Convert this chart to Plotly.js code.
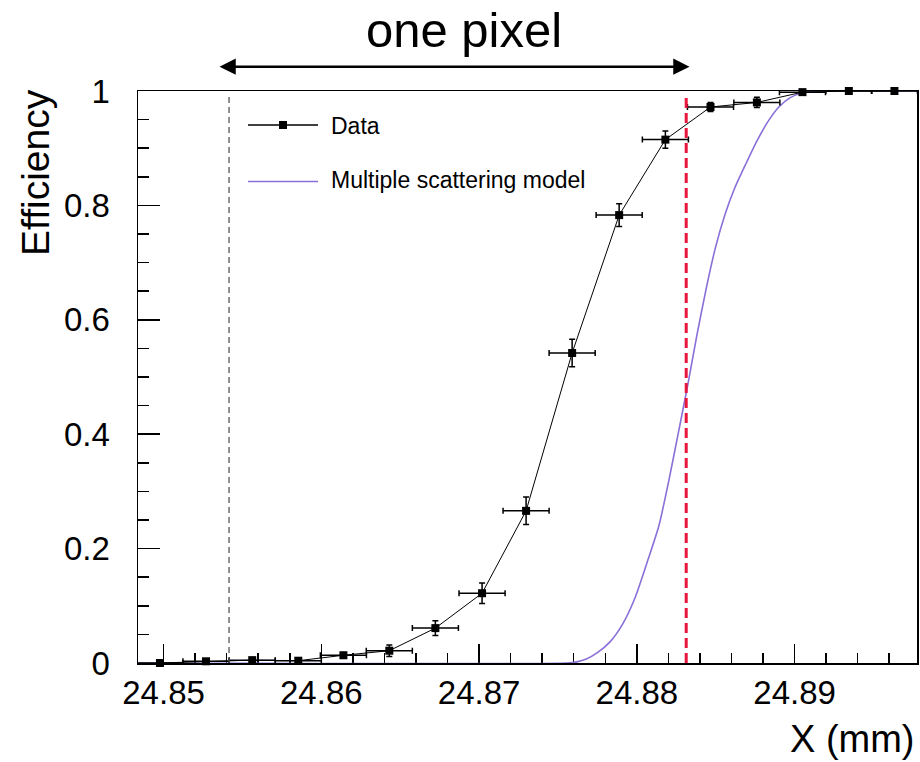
<!DOCTYPE html>
<html>
<head>
<meta charset="utf-8">
<script src="https://cdn.plot.ly/plotly-3.0.1.min.js"></script>
<style>html,body{margin:0;padding:0;background:#fff;}#chart{width:920px;height:762px;}</style>
</head>
<body>
<div id="chart"></div>
<script>
// Measured data points (efficiency vs X position)
const dataX = [24.84977, 24.85269, 24.85562, 24.85854, 24.86140, 24.86431, 24.86723, 24.87019, 24.87298,
               24.87590, 24.87888, 24.88181, 24.88467, 24.88761, 24.89050, 24.89344, 24.89633];
const dataY = [0.000, 0.003, 0.005, 0.004, 0.0135, 0.0215, 0.061, 0.122, 0.266,
               0.542, 0.783, 0.915, 0.972, 0.980, 0.998, 1.000, 1.000];
const dataXErr = [0.00146, 0.00146, 0.00146, 0.00146, 0.00146, 0.00146, 0.00146, 0.00146, 0.00146,
                  0.00146, 0.00146, 0.00146, 0.00146, 0.00146, 0.00146, 0.00146, 0.00146];
const dataYErr = [0.002, 0.003, 0.004, 0.003, 0.005, 0.010, 0.013, 0.018, 0.024,
                  0.024, 0.020, 0.015, 0.008, 0.009, 0.003, 0.002, 0.002];

// Multiple scattering model curve
const modelX = [24.84838, 24.87560, 24.87620, 24.87680, 24.87750, 24.87830, 24.87910, 24.87990, 24.88070,
                24.88140, 24.88200, 24.88260, 24.88320, 24.88380, 24.88440, 24.88500, 24.88560,
                24.88620, 24.88690, 24.88760, 24.88830, 24.88900, 24.88970, 24.89050, 24.89150, 24.89778];
const modelY = [0.000, 0.000, 0.002, 0.007, 0.018, 0.037, 0.068, 0.115, 0.180,
                0.240, 0.315, 0.398, 0.482, 0.572, 0.655, 0.728, 0.785,
                0.830, 0.872, 0.912, 0.946, 0.972, 0.988, 0.997, 1.000, 1.000];

// Pixel edges (vertical reference lines)
const pixelEdges = [24.85415, 24.88313];

const FONT = 'Liberation Sans, Arial, Helvetica, sans-serif';

const traces = [
  {
    x: modelX, y: modelY, type: 'scatter', mode: 'lines',
    name: 'Multiple scattering model', showlegend: false,
    line: {color: '#8a6fd8', width: 1.6, shape: 'spline', smoothing: 0.6}, cliponaxis: false, hoverinfo: 'skip'
  },
  {
    x: dataX, y: dataY, type: 'scatter', mode: 'lines+markers',
    name: 'Data', showlegend: false,
    line: {color: '#000', width: 1},
    marker: {symbol: 'square', size: 8, color: '#000'},
    error_x: {type: 'data', array: dataXErr, visible: true, color: '#000', thickness: 1.5, width: 3},
    error_y: {type: 'data', array: dataYErr, visible: true, color: '#000', thickness: 1.5, width: 3},
    cliponaxis: false
  }
];

const layout = {
  width: 920, height: 762,
  margin: {l: 138, r: 3, t: 91, b: 99, pad: 0},
  paper_bgcolor: '#fff', plot_bgcolor: '#fff',
  font: {family: FONT, color: '#000'},
  showlegend: false,
  title: {
    text: 'one pixel', x: 464 / 920, xanchor: 'center', xref: 'container',
    y: 1 - 30 / 762, yref: 'container', yanchor: 'middle',
    font: {family: FONT, size: 49, color: '#000'}
  },
  xaxis: {
    range: [24.84838, 24.89776], tick0: 24.85, dtick: 0.01,
    ticks: 'inside', ticklen: 19, tickwidth: 1.5, tickcolor: '#000',
    minor: {dtick: 0.002, ticks: 'inside', ticklen: 10, tickwidth: 1.5, tickcolor: '#000'},
    showline: true, linewidth: 1.5, linecolor: '#000', mirror: true,
    showgrid: false, zeroline: false, layer: 'below traces',
    tickfont: {family: FONT, size: 33, color: '#000'}, ticklabelstandoff: 0
  },
  yaxis: {
    range: [0, 1], tick0: 0, dtick: 0.2,
    ticks: 'inside', ticklen: 22, tickwidth: 1.5, tickcolor: '#000',
    minor: {dtick: 0.05, ticks: 'inside', ticklen: 11, tickwidth: 1.5, tickcolor: '#000'},
    showline: true, linewidth: 1.5, linecolor: '#000', mirror: true,
    showgrid: false, zeroline: false, layer: 'below traces',
    tickfont: {family: FONT, size: 33, color: '#000'}, ticklabelstandoff: 20
  },
  shapes: [
    {type: 'line', xref: 'x', yref: 'paper', x0: pixelEdges[0], x1: pixelEdges[0], y0: 0, y1: 0.99,
     line: {color: '#555', width: 1.3, dash: '6px,4px'}},
    {type: 'line', xref: 'x', yref: 'paper', x0: pixelEdges[1], x1: pixelEdges[1], y0: 0, y1: 0.99,
     line: {color: '#e8163c', width: 3, dash: '10px,5px'}, layer: 'above'},
    // legend symbols
    {type: 'line', xref: 'paper', yref: 'paper', x0: (248-138)/779, x1: (318-138)/779,
     y0: (663-125)/572, y1: (663-125)/572, line: {color: '#000', width: 1.3}},
    {type: 'rect', xref: 'paper', yref: 'paper', x0: (279-138)/779, x1: (287-138)/779,
     y0: (663-129)/572, y1: (663-121)/572, fillcolor: '#000', line: {width: 0}},
    {type: 'line', xref: 'paper', yref: 'paper', x0: (248-138)/779, x1: (318-138)/779,
     y0: (663-181.5)/572, y1: (663-181.5)/572, line: {color: '#8a6fd8', width: 1.6}}
  ],
  annotations: [
    {text: '', xref: 'paper', yref: 'paper', x: (689.5-138)/779, y: (663-66.7)/572,
     axref: 'pixel', ayref: 'pixel', ax: -(689.5-218), ay: 0, showarrow: true,
     arrowside: 'end+start', arrowhead: 2, startarrowhead: 2, arrowwidth: 2.5, arrowsize: 1.3,
     startarrowsize: 1.3, arrowcolor: '#000'},
    {text: 'Data', xref: 'paper', yref: 'paper', x: (329-138)/779, y: (663-126)/572,
     xanchor: 'left', yanchor: 'middle', showarrow: false, font: {family: FONT, size: 23, color: '#000'}},
    {text: 'Multiple scattering model', xref: 'paper', yref: 'paper', x: (329-138)/779, y: (663-180)/572,
     xanchor: 'left', yanchor: 'middle', showarrow: false, font: {family: FONT, size: 23, color: '#000'}},
    {text: 'Efficiency', xref: 'paper', yref: 'paper', x: (35-138)/779, y: (663-173)/572,
     xanchor: 'center', yanchor: 'middle', textangle: -90, showarrow: false,
     font: {family: FONT, size: 39, color: '#000'}},
    {text: 'X (mm)', xref: 'paper', yref: 'paper', x: 1, y: (663-739)/572,
     xanchor: 'right', yanchor: 'middle', showarrow: false,
     font: {family: FONT, size: 38, color: '#000'}}
  ]
};

Plotly.newPlot('chart', traces, layout, {displayModeBar: false, staticPlot: true});
</script>
</body>
</html>
